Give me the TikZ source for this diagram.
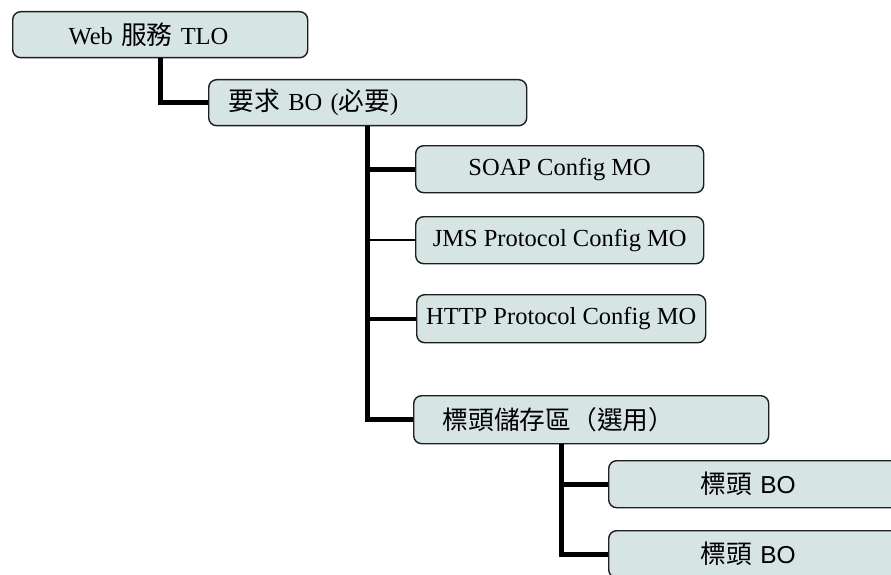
\documentclass[tikz,border=0pt]{standalone}
\usepackage{fontspec}
\setmainfont{Liberation Serif}
\newfontfamily\cjk[Scale=1.05]{Noto Sans CJK TC}
\newfontfamily\arial{Liberation Sans}
\newcommand\zh[1]{{\cjk #1}}
\definecolor{boxfill}{RGB}{214,228,228}
\definecolor{linec}{RGB}{30,30,30}
\tikzset{
  box/.style={draw=linec, line width=1.4pt, fill=boxfill, rounded corners=8pt,
    anchor=north west, minimum height=47pt, inner ysep=0pt,
    font=\fontsize{24.5}{28}\selectfont},
  lbox/.style 2 args={box, align=left, inner xsep=#1, text width=#2},
  conn/.style={draw=black, line width=5pt}
}
\begin{document}
\begin{tikzpicture}[x=1pt,y=-1pt]
\useasboundingbox (0,0) rectangle (891,575);
\clip (0,0) rectangle (891,575);

\node (tlo) at (12,11) [lbox={56pt}{183pt}, minimum height=46pt]{Web \zh{服務} TLO};
\node (req) at (208,79) [lbox={20pt}{278pt}, minimum height=46pt]{\zh{要求} BO (\zh{必要})};
\node (soap) at (415,145) [box, minimum width=288pt]{SOAP Config MO};
\node (jms) at (415,216) [box, minimum width=288pt]{JMS Protocol Config MO};
\node (http) at (416,294) [box, minimum width=289pt, minimum height=48pt]{HTTP Protocol Config MO};
\node (hdr) at (413,395) [lbox={29pt}{297pt}, minimum height=48pt]{\zh{標頭儲存區（選用）}};
\node (bo1) at (608,460) [lbox={92pt}{116pt}]{\zh{標頭} {\arial BO}};
\node (bo2) at (608,530) [lbox={92pt}{116pt}]{\zh{標頭} {\arial BO}};

\draw[conn] (tlo.south) |- (req.west);
\draw[conn] (req.south) |- (hdr.west);
\draw[conn] (req.south |- soap.west) -- (soap.west);
\draw[conn, line width=2.5pt] (req.south |- jms.west) -- (jms.west);
\draw[conn, line width=4pt] (req.south |- http.west) -- (http.west);
\coordinate (hub) at ([xshift=-30pt]hdr.south);
\draw[conn] (hub) |- (bo1.west);
\draw[conn] (hub) |- (bo2.west);
\end{tikzpicture}
\end{document}
